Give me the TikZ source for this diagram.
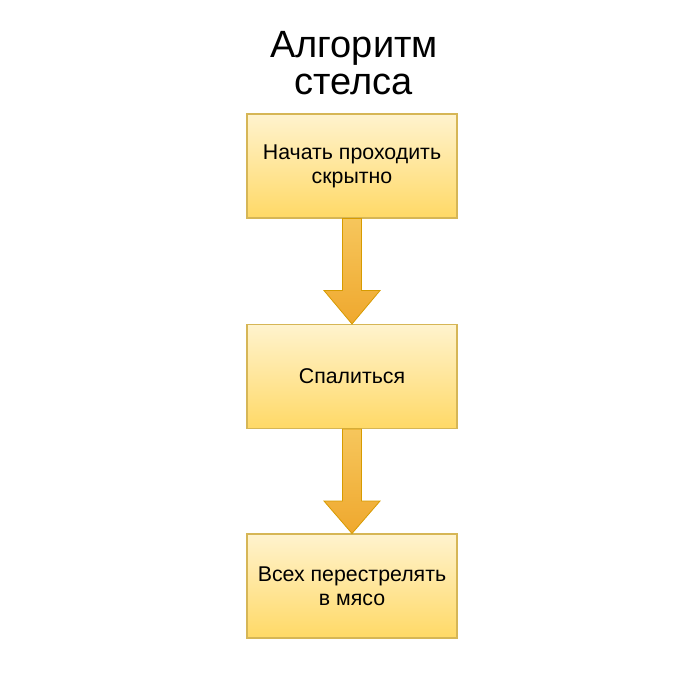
\documentclass[tikz,border=0pt]{standalone}
\usepackage{fontspec}
\setmainfont{Liberation Sans}
\definecolor{boxtop}{HTML}{FFF3CE}
\definecolor{boxbot}{HTML}{FFD966}
\definecolor{boxline}{HTML}{D6B656}
\definecolor{arrtop}{HTML}{F6C65C}
\definecolor{arrbot}{HTML}{EFA82E}
\definecolor{arrline}{HTML}{D79B00}
\begin{document}
\begin{tikzpicture}[x=0.75pt,y=-0.75pt,
  stepbox/.style={draw=boxline,line width=0.8pt,top color=boxtop,bottom color=boxbot,
    minimum width=210*0.75pt,minimum height=104*0.75pt,align=center,
    font=\fontsize{16}{18}\selectfont,inner sep=0pt},
  bigarrow/.style={draw=arrline,line width=0.6pt,top color=arrtop,bottom color=arrbot}]
\useasboundingbox (0,0) rectangle (700,700);
\node[font=\fontsize{28.5}{28}\selectfont,align=center] (title) at (354,63) {Алгоритм\\стелса};
\node[stepbox] (b1) at (352,166) {Начать проходить\\скрытно};
\node[stepbox] (b2) at (352,376.5) {Спалиться};
\node[stepbox] (b3) at (352,586) {Всех перестрелять\\в мясо};
\foreach \a/\b in {b1/b2,b2/b3}{
  \path[bigarrow] ([xshift=-9.5*0.75pt]\a.south) -- ([xshift=-9.5*0.75pt,yshift=-72*0.75pt]\a.south)
    -- ([xshift=-28*0.75pt,yshift=-72*0.75pt]\a.south) -- (\b.north)
    -- ([xshift=28*0.75pt,yshift=-72*0.75pt]\a.south) -- ([xshift=9.5*0.75pt,yshift=-72*0.75pt]\a.south)
    -- ([xshift=9.5*0.75pt]\a.south) -- cycle;
}
\end{tikzpicture}
\end{document}
